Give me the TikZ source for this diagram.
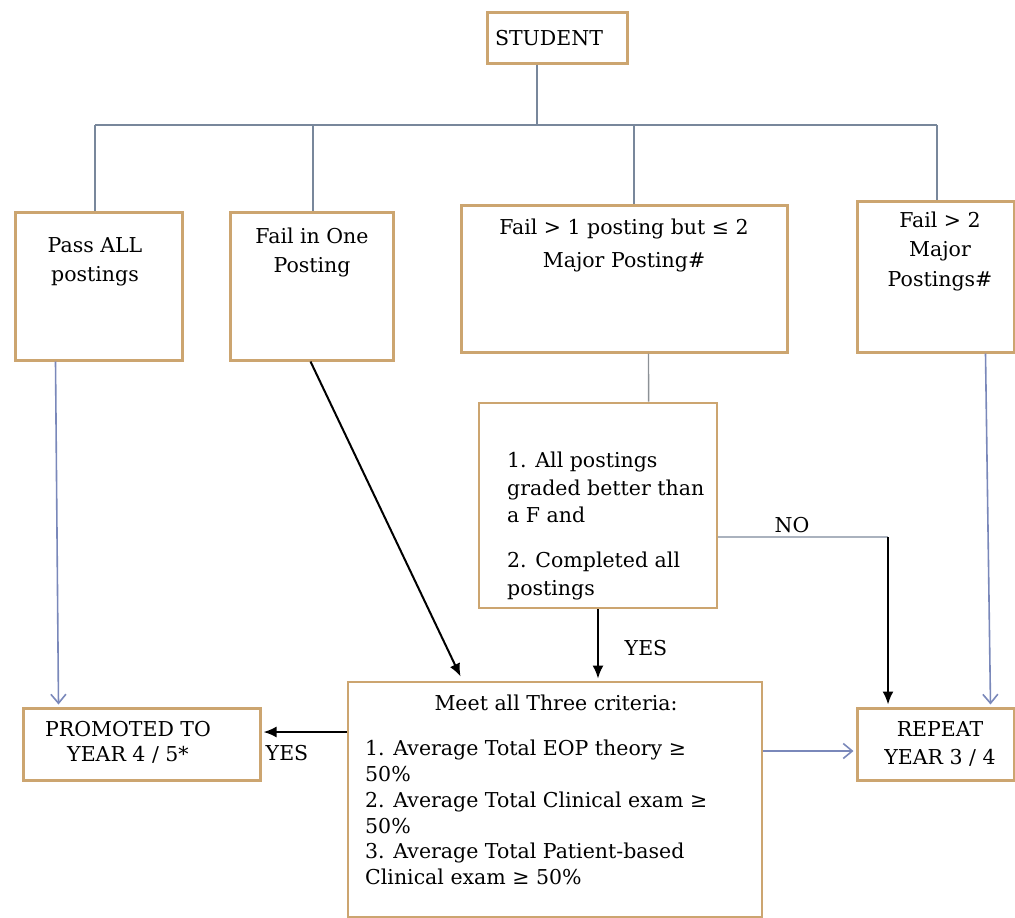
\documentclass[tikz,border=0pt]{standalone}
\usepackage{fontspec}
\setmainfont{DejaVu Serif}
\usetikzlibrary{arrows.meta,calc}
\definecolor{boxc}{RGB}{204,165,112}
\definecolor{treec}{RGB}{120,135,155}
\definecolor{bluec}{RGB}{122,136,186}
\definecolor{noc}{RGB}{170,178,190}
\definecolor{linkc}{RGB}{140,145,150}
\tikzset{
 box/.style={draw=boxc, line width=3pt, fill=white, inner sep=0pt},
 thinbox/.style={draw=boxc, line width=2.8pt, fill=white, inner sep=0pt},
 txt/.style={inner sep=0pt, align=center, font=\fontsize{20.5}{29}\selectfont},
 ltxt/.style={inner sep=0pt, align=left, font=\fontsize{20.5}{27.5}\selectfont},
 tree/.style={draw=treec, line width=1.4pt},
 barb/.style={draw=bluec, line width=1.6pt, -{Straight Barb[length=9pt,width=15pt,line width=1.6pt]}},
 blk/.style={draw=black, line width=2pt, -{Latex[length=13pt,width=11pt]}},
}
\begin{document}
\begin{tikzpicture}[x=1pt,y=-1pt]
\useasboundingbox (0,0) rectangle (1015,918);
% boxes
\node[box, minimum width=140pt, minimum height=51pt] (student) at (557,37.5) {};
\node[box, minimum width=167pt, minimum height=148pt] (pass) at (98.5,286) {};
\node[box, minimum width=163pt, minimum height=148pt] (failone) at (311.5,286) {};
\node[box, minimum width=326pt, minimum height=147pt] (failmany) at (624,278.5) {};
\node[box, minimum width=157pt, minimum height=151pt] (failtwo) at (935.5,276.5) {};
\node[thinbox, minimum width=238pt, minimum height=205pt] (crit) at (598,505.5) {};
\node[thinbox, minimum width=414pt, minimum height=235pt] (meet) at (555,799.5) {};
\node[box, minimum width=237pt, minimum height=72pt] (prom) at (141.5,744) {};
\node[box, minimum width=157pt, minimum height=72pt] (repeat) at (935.5,744) {};
% texts
\node[txt] (studentT) at (549,38) {STUDENT};
\node[txt] (passT) at (95,261.5) {Pass ALL\\postings};
\node[txt] (failoneT) at (312,252) {Fail in One\\Posting};
\node[txt, font=\fontsize{20.5}{33}\selectfont] (failmanyT) at (624,245) {Fail > 1 posting but ≤ 2\\Major Posting\#};
\node[txt, font=\fontsize{20.5}{29.5}\selectfont] (failtwoT) at (940,251) {Fail > 2\\Major\\Postings\#};
\node[ltxt, anchor=west] (critA) at (507,487.5) {1. All postings\\graded better than\\a F and};
\node[ltxt, anchor=west] (critB) at (507,576) {2. Completed all\\postings};
\node[txt] (meetTitle) at (556,703) {Meet all Three criteria:};
\node[ltxt, anchor=west, font=\fontsize{20.5}{25.8}\selectfont] (meetT) at (365,812.5) {1. Average Total EOP theory ≥\\50\%\\2. Average Total Clinical exam ≥\\50\%\\3. Average Total Patient-based\\Clinical exam ≥ 50\%};
\node[txt, font=\fontsize{20.5}{25}\selectfont] (promT) at (128,742.5) {PROMOTED TO\\YEAR 4 / 5*};
\node[txt, font=\fontsize{20.5}{28}\selectfont] (repeatT) at (940,744) {REPEAT\\YEAR 3 / 4};
\node[txt] (noL) at (792,525) {NO};
\node[txt] (yesA) at (646,648) {YES};
\node[txt] (yesB) at (287,753) {YES};
% tree
\coordinate (hub) at (537,125);
\coordinate (d1) at (95,125);
\coordinate (d2) at (313,125);
\coordinate (d3) at (634,125);
\coordinate (d4) at (937,125);
\draw[tree] (student.south -| hub) -- (hub);
\draw[tree] (d1) -- (d4);
\draw[tree] (d1) -- (d1 |- pass.north);
\draw[tree] (d2) -- (d2 |- failone.north);
\draw[tree] (d3) -- (d3 |- failmany.north);
\draw[tree] (d4) -- (d4 |- failtwo.north);
% connectors
\draw[draw=linkc, line width=1.4pt] ($(failmany.south west)+(189,0)$) -- ($(crit.north west)+(171,0)$);
\draw[barb] ($(pass.south west)+(42,0)$) -- ($(prom.north west)+(37,-2)$);
\draw[blk] ($(failone.south west)+(82,0)$) -- ($(meet.north west)+(114,-4)$);
\draw[blk] (crit.south) -- ($(crit.south |- meet.north)+(0,-2)$);
\coordinate (nocorner) at (888,537);
\draw[draw=noc, line width=1.6pt] ($(crit.east)+(0,31.5)$) -- (nocorner);
\draw[blk] (nocorner) -- ($(nocorner |- repeat.north)+(0,-2)$);
\draw[barb] ($(failtwo.south west)+(130,0)$) -- ($(repeat.north west)+(135,-2)$);
\draw[blk] ($(meet.west)+(0,-67.5)$) -- ($(prom.east)+(2,-12)$);
\draw[barb] ($(meet.east)+(0,-48.5)$) -- ($(repeat.west)+(-2,7)$);
\end{tikzpicture}
\end{document}
